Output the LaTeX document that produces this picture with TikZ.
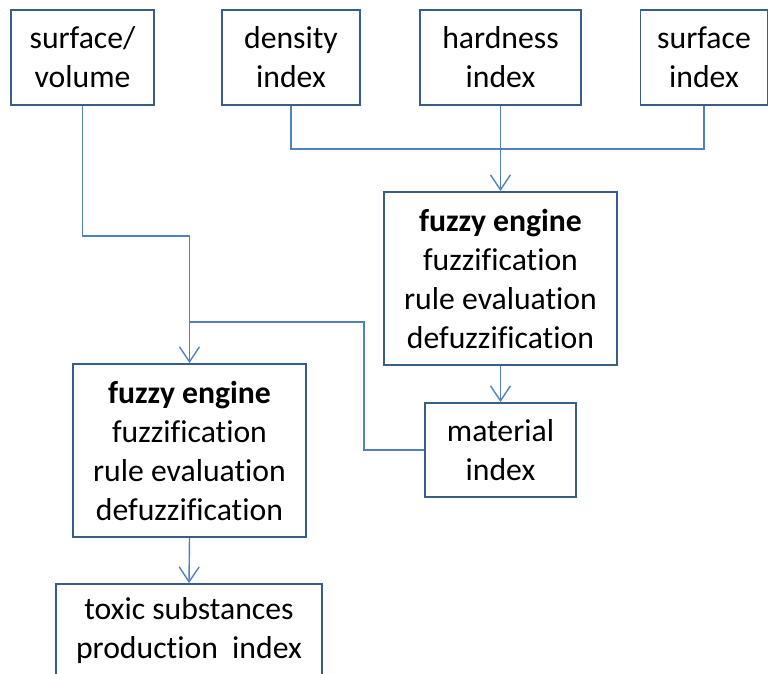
\documentclass[tikz,border=0pt]{standalone}
\usepackage{fontspec}
\setmainfont{Carlito}[Ligatures=NoCommon]
\usetikzlibrary{arrows.meta}
\definecolor{boxblue}{RGB}{56,93,138}
\definecolor{lineblue}{RGB}{79,129,189}
\tikzset{
  block/.style={draw=boxblue, line width=1.8pt, inner sep=0pt, align=center,
    font=\fontsize{31.7}{39}\selectfont},
  link/.style={draw=lineblue, line width=1.4pt},
  flow/.style={link, -{Straight Barb[length=15pt,width=20pt,line width=1.4pt]}}
}
\begin{document}
\begin{tikzpicture}[x=1pt,y=-1pt]
  \useasboundingbox (0,0) rectangle (768,673);
  % input indices
  \node[block, minimum width=143pt, minimum height=95pt] (sv) at (82.5,57.5) {surface/\\volume};
  \node[block, minimum width=138pt, minimum height=95pt] (dens) at (291,57.5) {density\\index};
  \node[block, minimum width=161pt, minimum height=95pt] (hard) at (500.5,57.5) {hardness\\index};
  \node[block, minimum width=127pt, minimum height=95pt] (surfidx) at (704,57.5) {surface\\index};
  % engines and outputs
  \node[block, minimum width=233pt, minimum height=173pt] (fe1) at (500.5,278.5)
    {\textbf{fuzzy engine}\\fuzzification\\rule evaluation\\defuzzification};
  \node[block, minimum width=151pt, minimum height=94pt] (mat) at (500.5,450) {material\\index};
  \node[block, minimum width=233pt, minimum height=173pt] (fe2) at (189.5,450.5)
    {\textbf{fuzzy engine}\\fuzzification\\rule evaluation\\defuzzification};
  \node[block, minimum width=266pt, minimum height=93pt] (tox) at (189,630.5)
    {toxic substances\\production~ index};
  % junctions
  \coordinate (hardjoin) at (500.5,149);
  \coordinate (matjoin) at (189.5,322);
  % connectors
  \draw[link] (dens.south) |- (hardjoin) -| (surfidx.south);
  \draw[flow] (hard.south) -- (fe1.north);
  \draw[flow] (fe1.south) -- (mat.north);
  \draw[flow] (sv.south) -- ++(0,130) -| (fe2.north);
  \draw[link] (mat.west) -- ++(-60,0) |- (matjoin);
  \draw[flow] (fe2.south) -- (tox.north);
\end{tikzpicture}
\end{document}
